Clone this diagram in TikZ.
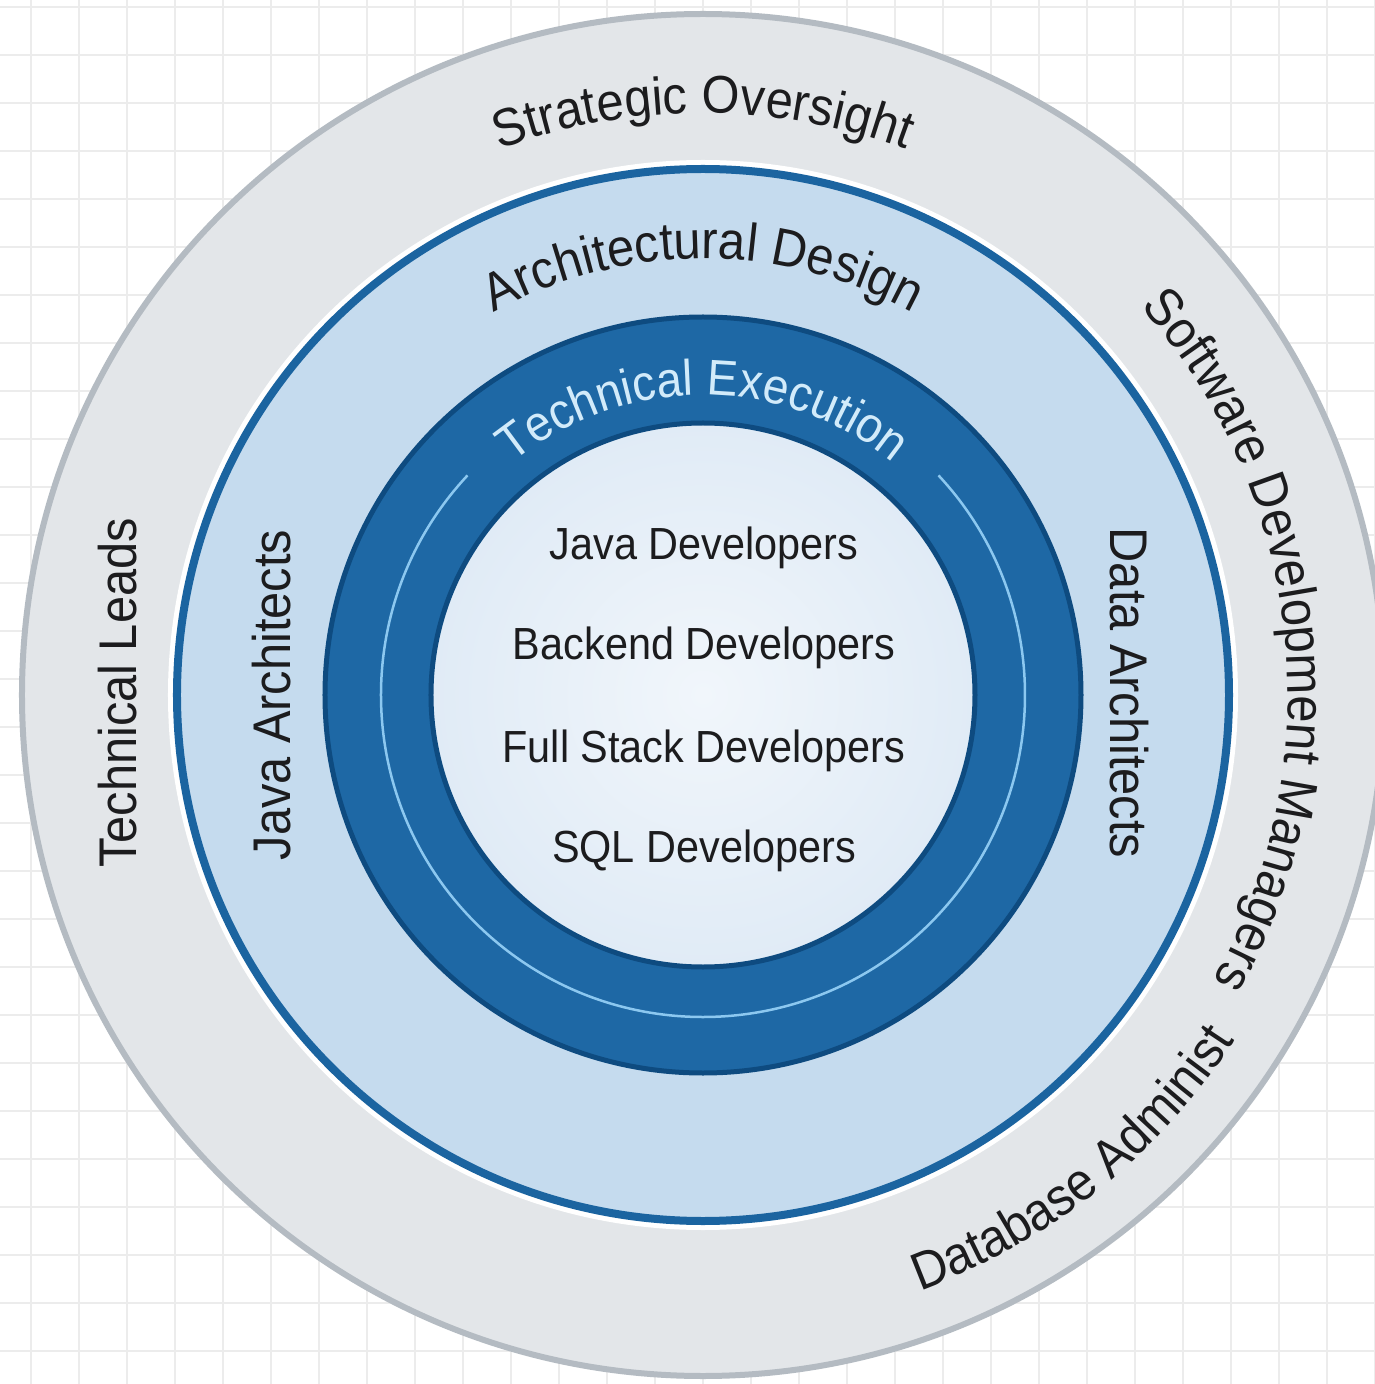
\documentclass[tikz,border=0pt]{standalone}
\usepackage{fontspec}
\setmainfont{Liberation Sans}[FakeStretch=0.92]
\usetikzlibrary{decorations.text}

\definecolor{gridgray}{RGB}{236,236,236}
\definecolor{ringgray}{RGB}{227,230,233}
\definecolor{rimgray}{RGB}{180,187,194}
\definecolor{archblue}{RGB}{197,219,238}
\definecolor{rimblue}{RGB}{27,100,160}
\definecolor{execblue}{RGB}{30,104,165}
\definecolor{execrim}{RGB}{14,75,128}
\definecolor{threadblue}{RGB}{140,200,240}
\definecolor{coreblue}{RGB}{224,235,246}
\definecolor{exectext}{RGB}{210,235,250}
\definecolor{labelink}{RGB}{28,28,30}

\newcommand\ringfont{\fontsize{53}{63}\selectfont}
\newcommand\execfont{\fontsize{50}{60}\selectfont}
\newcommand\listfont{\fontsize{45}{54}\selectfont}

\tikzset{
  ringlabel/.style={font=\ringfont, text=labelink, inner sep=0pt},
  devlabel/.style={font=\listfont, text=labelink, anchor=base, inner sep=0pt},
}

\begin{document}
\begin{tikzpicture}[x=1pt, y=1pt]
    \useasboundingbox (-703, -689) rectangle (672, 695);
    \fill [white] (-703, -689) rectangle (672, 695);
    % grid paper
    \foreach \gx in {-672, -624, ..., 672}
      \draw [gridgray, line width=1.5] (\gx, -689) -- (\gx, 695);
    \foreach \gy in {-656, -608, ..., 688}
      \draw [gridgray, line width=1.5] (-703, \gy) -- (672, \gy);

    % rings, outside in
    \fill [ringgray, draw=rimgray, line width=6] (0, 0) circle[radius=681];
    \draw [white, line width=6] (0, 0) circle[radius=532];
    \fill [archblue, draw=rimblue, line width=8] (0, 0) circle[radius=526];
    \fill [execblue, draw=execrim, line width=5] (0, 0) circle[radius=378];
    \draw [threadblue, line width=2.5] (137:322) arc[start angle=137, end angle=403, radius=322];
    \shade [inner color=white!55!coreblue, outer color=coreblue] (0, 0) circle[radius=272];
    \draw [execrim, line width=5] (0, 0) circle[radius=272];

    % curved labels
    \path [decorate, decoration={text along path, text align=center, text color=labelink,
      text={|\ringfont|Strategic Oversight}}] (135:582) arc[start angle=135, end angle=45, radius=582];
    \path [decorate, decoration={text along path, text align=center, text color=labelink,
      text={|\ringfont|Software Development Managers}}] (55.2:585) arc[start angle=55.2, end angle=-42.8, radius=585];
    \path [decorate, decoration={text along path, text align=center, text color=labelink,
      text={|\ringfont|Database Administ}}] (-94.5:634) arc[start angle=-94.5, end angle=-8.5, radius=634];
    \path [decorate, decoration={text along path, text align=center, text color=labelink,
      text={|\ringfont|Architectural Design}}] (150:436) arc[start angle=150, end angle=30, radius=436];
    \path [decorate, decoration={text along path, text align=center, text color=exectext,
      text={|\execfont|Technical Execution}}] (150:300) arc[start angle=150, end angle=30, radius=300];

    % upright and turned labels
    \draw (-585, 2) node[ringlabel, rotate=90] (tleads) {Technical Leads};
    \draw (-431, 0) node[ringlabel, rotate=90] (jarch) {Java Architects};
    \draw (426, 2) node[ringlabel, rotate=-90] (darch) {Data Architects};

    \draw (1, 135) node[devlabel] (jdev) {Java Developers};
    \draw (1, 35) node[devlabel] (bdev) {Backend Developers};
    \draw (1, -67) node[devlabel] (fsdev) {Full Stack Developers};
    \draw (1, -167) node[devlabel] (sqldev) {SQL Developers};
  \end{tikzpicture}
\end{document}
